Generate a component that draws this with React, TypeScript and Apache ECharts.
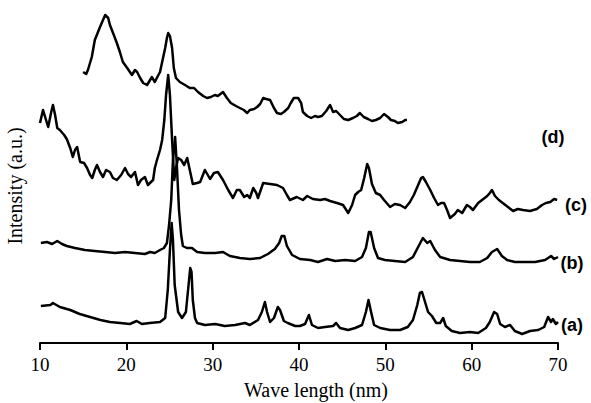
import React, { useEffect, useRef } from "react";
import * as echarts from "echarts";

// Wave length (nm) vs intensity (a.u., arbitrary offset units)
const curveA: [number, number][] = [
  [10.1, 37], [11.2, 38], [11.5, 40], [12.3, 36], [13.5, 33], [14.6, 29], [15.8, 26], [17.0, 23], [18.1, 21], [19.3, 20],
  [20.4, 19], [21.2, 22], [21.8, 19], [22.7, 20], [23.9, 21], [24.5, 25], [24.8, 53], [25.05, 93], [25.25, 120], [25.4, 103],
  [25.6, 58], [26.0, 31], [26.45, 25], [26.9, 31], [27.15, 53], [27.4, 75], [27.55, 71], [27.7, 43], [27.95, 25], [28.2, 20],
  [29.1, 18], [30.3, 19], [31.4, 17], [32.6, 18], [33.75, 20], [34.3, 18], [35.25, 23], [35.7, 31], [36.05, 41], [36.3, 31],
  [36.65, 21], [37.1, 25], [37.55, 36], [37.8, 33], [38.25, 22], [38.7, 20], [39.55, 17], [40.1, 17], [40.7, 19], [41.15, 28],
  [41.5, 18], [42.2, 15], [43.0, 16], [43.95, 17], [44.3, 20], [44.75, 15], [45.7, 13], [46.5, 15], [47.3, 18], [47.75, 31],
  [48.05, 43], [48.35, 31], [48.7, 18], [49.4, 15], [50.55, 13], [51.7, 13], [52.6, 16], [53.2, 23], [53.7, 38], [54.0, 50],
  [54.25, 51], [54.6, 41], [54.95, 31], [55.4, 27], [55.9, 20], [56.35, 20], [56.7, 25], [57.0, 17], [57.7, 12], [58.65, 10],
  [59.8, 11], [60.75, 10], [61.65, 15], [62.1, 21], [62.6, 31], [62.95, 29], [63.3, 19], [63.85, 16], [64.45, 18], [65.0, 12],
  [65.85, 9], [66.75, 12], [67.7, 13], [68.4, 16], [68.85, 26], [69.2, 21], [69.4, 24], [69.75, 19], [70.0, 21],
];

const curveB: [number, number][] = [
  [10.1, 100], [10.8, 101], [11.4, 99], [12.0, 102], [12.55, 99], [13.1, 97], [14.05, 95], [15.2, 93], [16.35, 92], [17.55, 91],
  [18.7, 90], [19.85, 91], [21.0, 90], [22.15, 89], [22.75, 91], [23.3, 90], [23.9, 93], [24.35, 95], [24.7, 100], [24.95, 118],
  [25.2, 143], [25.4, 183], [25.65, 206], [25.85, 178], [26.1, 133], [26.35, 108], [26.55, 97], [27.0, 95], [27.6, 95], [28.2, 91],
  [29.1, 90], [30.3, 90], [31.2, 91], [32.0, 87], [33.15, 85], [34.3, 84], [35.5, 85], [36.4, 89], [37.2, 94], [37.7, 100],
  [38.0, 107], [38.3, 107], [38.6, 97], [39.2, 88], [40.1, 84], [41.3, 83], [42.2, 81], [43.25, 84], [44.2, 82], [45.35, 83],
  [46.5, 82], [47.3, 86], [47.75, 95], [48.1, 111], [48.3, 111], [48.7, 95], [49.15, 85], [49.95, 83], [51.1, 82], [52.3, 81],
  [53.2, 86], [53.8, 96], [54.35, 105], [54.85, 100], [55.2, 102], [55.75, 93], [56.35, 86], [57.5, 83], [58.65, 82], [59.8, 81],
  [60.95, 81], [61.8, 85], [62.35, 91], [62.95, 94], [63.5, 87], [64.1, 83], [65.0, 81], [66.2, 81], [67.35, 81], [68.5, 83],
  [69.2, 87], [69.55, 84], [70.0, 86],
];

const curveC: [number, number][] = [
  [10.0, 220], [10.35, 233], [10.7, 223], [10.95, 216], [11.3, 231], [11.5, 238], [11.75, 228], [12.0, 215], [12.3, 213], [12.8, 208],
  [13.1, 204], [13.5, 195], [13.8, 186], [14.05, 193], [14.3, 196], [14.65, 181], [15.1, 180], [15.45, 175], [15.8, 168], [16.05, 165],
  [16.35, 173], [16.6, 178], [16.95, 171], [17.3, 166], [17.65, 173], [18.1, 171], [18.45, 165], [18.9, 163], [19.4, 168], [19.85, 175],
  [20.2, 169], [20.55, 166], [21.0, 171], [21.35, 158], [21.7, 163], [22.15, 166], [22.5, 158], [22.85, 161], [23.1, 163], [23.3, 175],
  [23.55, 183], [23.9, 193], [24.15, 203], [24.4, 223], [24.6, 248], [24.85, 268], [25.05, 248], [25.3, 203], [25.55, 163], [25.75, 175],
  [26.0, 185], [26.35, 183], [26.7, 178], [27.05, 185], [27.4, 171], [27.7, 159], [28.2, 160], [28.55, 161], [29.1, 173], [29.7, 164],
  [30.15, 170], [30.6, 171], [31.2, 163], [31.8, 153], [32.35, 145], [32.8, 153], [33.15, 153], [33.65, 146], [34.0, 148], [34.3, 145],
  [34.7, 155], [35.05, 150], [35.25, 145], [35.85, 160], [36.65, 159], [37.45, 158], [38.15, 155], [38.6, 148], [38.95, 143], [39.75, 146],
  [40.45, 143], [40.95, 147], [41.6, 144], [42.45, 143], [43.0, 144], [43.6, 142], [44.4, 140], [45.1, 138], [45.7, 130], [46.15, 138],
  [46.5, 148], [46.85, 151], [47.2, 153], [47.55, 165], [47.9, 179], [48.1, 175], [48.45, 159], [48.9, 150], [49.4, 148], [49.85, 143],
  [50.55, 136], [51.1, 139], [51.7, 138], [52.3, 135], [52.85, 141], [53.3, 148], [53.8, 158], [54.15, 165], [54.35, 166], [54.7, 161],
  [55.2, 153], [55.65, 145], [56.1, 138], [56.45, 140], [56.8, 140], [57.15, 133], [57.5, 125], [58.05, 129], [58.4, 133], [58.9, 130],
  [59.45, 138], [59.8, 136], [60.15, 133], [60.75, 140], [61.2, 143], [61.8, 147], [62.1, 150], [62.35, 153], [62.7, 147], [63.15, 143],
  [63.6, 140], [64.2, 136], [64.8, 132], [65.35, 134], [65.95, 133], [66.75, 132], [67.55, 134], [68.15, 138], [68.6, 140], [69.1, 141],
  [69.55, 144], [69.9, 143],
];

const curveD: [number, number][] = [
  [15.0, 271], [15.35, 269], [15.55, 273], [16.0, 286], [16.35, 303], [16.95, 316], [17.3, 323], [17.55, 328], [17.9, 325], [18.1, 318],
  [18.55, 308], [18.9, 300], [19.25, 291], [19.6, 281], [20.1, 275], [20.65, 268], [21.0, 273], [21.25, 271], [21.6, 265], [21.95, 260],
  [22.4, 258], [22.75, 263], [22.95, 266], [23.3, 261], [23.65, 267], [23.9, 271], [24.25, 285], [24.5, 295], [24.7, 305], [24.85, 310],
  [25.05, 307], [25.3, 295], [25.5, 275], [25.75, 265], [26.2, 261], [26.8, 258], [27.35, 255], [27.85, 255], [28.3, 251], [28.9, 247],
  [29.35, 245], [29.8, 246], [30.25, 248], [30.6, 247], [31.2, 251], [31.65, 245], [32.1, 240], [32.7, 237], [33.15, 235], [33.6, 233],
  [34.0, 230], [34.3, 233], [34.8, 234], [35.15, 236], [35.5, 239], [35.85, 245], [36.2, 244], [36.65, 243], [37.1, 235], [37.45, 230],
  [37.9, 229], [38.25, 231], [38.75, 235], [39.05, 240], [39.4, 245], [39.9, 245], [40.25, 240], [40.45, 231], [40.95, 227], [41.4, 225],
  [41.85, 227], [42.2, 226], [42.65, 227], [43.15, 232], [43.6, 238], [43.95, 231], [44.3, 232], [44.75, 228], [45.2, 224], [45.7, 223],
  [46.25, 225], [46.7, 227], [47.05, 230], [47.5, 226], [48.0, 224], [48.45, 222], [48.9, 223], [49.4, 225], [49.85, 229], [50.3, 226],
  [50.65, 223], [51.1, 222], [51.45, 220], [51.95, 221], [52.3, 223], [52.5, 223],
];

const xTicks = { min: 10, max: 70, interval: 10 };
const curveLabels = ["(a)", "(b)", "(c)", "(d)"];

export default function App() {
  const ref = useRef<HTMLDivElement>(null);
  useEffect(() => {
    if (!ref.current) return;
    const chart = echarts.init(ref.current, undefined, { renderer: "svg" });
    const mk = (name: string, data: [number, number][]) => ({
      name,
      type: "line",
      data,
      showSymbol: false,
      symbol: "none",
      lineStyle: { color: "#000", width: 2.5, join: "round" },
      silent: true,
    });
    const labelPos = [
      [572, 325],
      [572, 263],
      [576, 205],
      [553, 137],
    ];
    chart.setOption({
      animation: false,
      backgroundColor: "#fff",
      grid: { left: 40, right: 33, top: 3, bottom: 60, containLabel: false },
      xAxis: {
        type: "value",
        min: xTicks.min,
        max: xTicks.max,
        interval: xTicks.interval,
        axisLine: { lineStyle: { color: "#000", width: 2 } },
        axisTick: { show: true, length: 7, lineStyle: { color: "#000", width: 2 } },
        axisLabel: { fontFamily: "Liberation Serif", fontSize: 19, color: "#000", margin: 12 },
        splitLine: { show: false },
      },
      yAxis: { type: "value", min: 0, max: 340, show: false },
      series: [mk("a", curveA), mk("b", curveB), mk("c", curveC), mk("d", curveD)],
      graphic: [
        {
          type: "text",
          x: 316,
          y: 390,
          style: {
            text: "Wave length (nm)",
            fontFamily: "Liberation Serif",
            fontSize: 20,
            fill: "#000",
            align: "center",
            verticalAlign: "middle",
          },
        },
        {
          type: "text",
          x: 15,
          y: 186,
          rotation: Math.PI / 2,
          style: {
            text: "Intensity (a.u.)",
            fontFamily: "Liberation Serif",
            fontSize: 20,
            fill: "#000",
            align: "center",
            verticalAlign: "middle",
          },
        },
        ...curveLabels.map((t, i) => ({
          type: "text",
          x: labelPos[i][0],
          y: labelPos[i][1],
          style: {
            text: t,
            fontFamily: "Liberation Sans",
            fontWeight: "bold",
            fontSize: 18,
            fill: "#000",
            align: "center",
            verticalAlign: "middle",
          },
        })),
      ],
    });
    return () => chart.dispose();
  }, []);
  return (
    <div
      ref={ref}
      style={{ position: "fixed", left: 0, top: 0, width: 591, height: 403, background: "#fff" }}
    />
  );
}
